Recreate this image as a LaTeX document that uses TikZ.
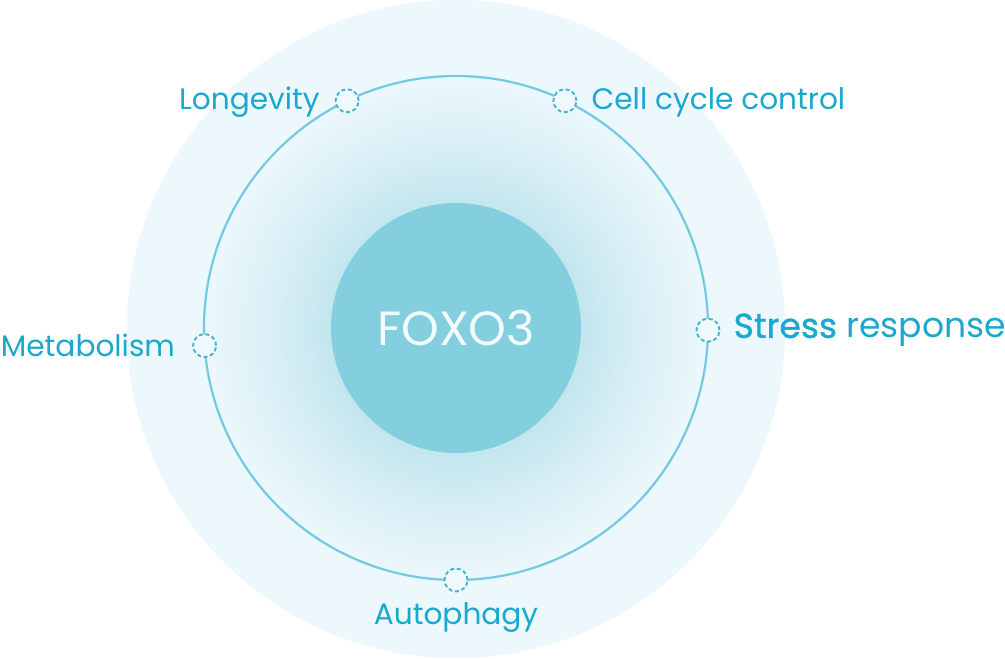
\documentclass[tikz,border=0pt]{standalone}
\usepackage{fontspec}
\setmainfont{Poppins}
\newfontfamily\medfont{Poppins}[FakeBold=1]
\usetikzlibrary{positioning,calc}

\definecolor{skyfill}{HTML}{EDF8FD}
\definecolor{glowin}{HTML}{C0E5ED}
\definecolor{glowmid}{HTML}{D6EEF4}
\definecolor{ringc}{HTML}{72CBE0}
\definecolor{portc}{HTML}{42B4D7}
\definecolor{portbg}{HTML}{F0F9FD}
\definecolor{corec}{HTML}{84CFDF}
\definecolor{corefg}{HTML}{F2FBFE}
\definecolor{labelc}{HTML}{1AA8CE}
\pgfdeclareradialshading{glow}{\pgfpoint{0bp}{0bp}}{color(0bp)=(glowin); color(9bp)=(glowin); color(13.5bp)=(glowmid); color(19.5bp)=(skyfill); color(25bp)=(skyfill); color(50bp)=(skyfill)}

\begin{document}
\begin{tikzpicture}[x=1pt,y=1pt,
 port/.style={circle,draw=portc,fill=portbg,dashed,dash pattern=on 4pt off 2.6pt,line width=1.9pt,minimum size=23pt,inner sep=0pt},
 lbl/.style={text=labelc,inner sep=0pt,font=\fontsize{29.6}{34}\selectfont},
 core/.style={circle,fill=corec,minimum size=250pt,inner sep=0pt,text=corefg,font=\fontsize{48}{54}\selectfont}]
\useasboundingbox (0,0) rectangle (1005,659);
\coordinate (c) at (456,331);
% background disk and glow
\fill[skyfill] (456,330) circle (329);
\shade[shading=glow] (456,330) circle (329);
\draw[ringc,line width=2.2pt] (c) circle (252);
\node[core] (foxo) at (c) {FOXO3};
% ports on the ring
\node[port] (pLong) at ($(c)+(115.6:252)$) {};
\node[port] (pCell) at ($(c)+(64.4:252)$) {};
\node[port] (pMeta) at ($(c)+(184:252)$) {};
\node[port] (pStress) at ($(c)+(-0.5:252)$) {};
\node[port] (pAuto) at ($(c)+(270:252)$) {};
% labels
\node[lbl,left=15pt of pLong,yshift=-1.5pt] (lLong) {Longevity};
\node[lbl,right=14pt of pCell,yshift=-1.5pt] (lCell) {Cell cycle control};
\node[lbl,left=17pt of pMeta] (lMeta) {Metabolism};
\node[lbl,right=13pt of pStress,font=\fontsize{34.6}{38}\selectfont] (lStress) {{\medfont Stress} response};
\node[lbl,below=10pt of pAuto] (lAuto) {Autophagy};
\end{tikzpicture}
\end{document}
